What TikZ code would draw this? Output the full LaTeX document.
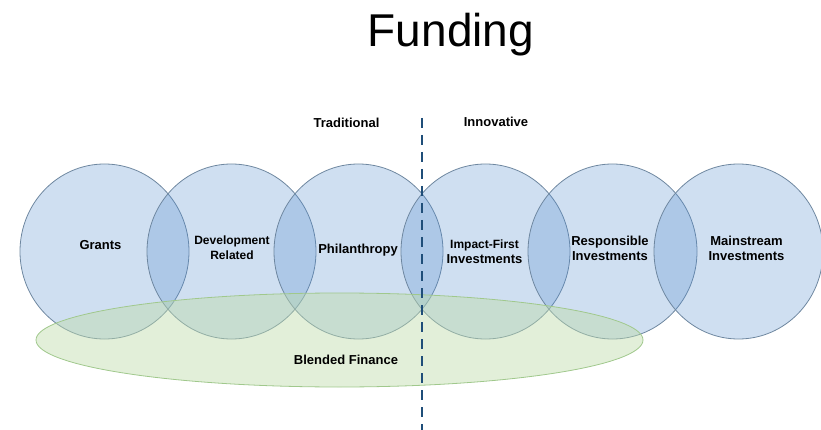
\documentclass[tikz,border=0pt]{standalone}
\usepackage{fontspec}
\setmainfont{Liberation Sans}
\usetikzlibrary{shapes.geometric}
\definecolor{circfill}{RGB}{84,140,205}
\definecolor{circline}{RGB}{110,135,160}
\definecolor{ellfill}{RGB}{190,220,170}
\definecolor{ellline}{RGB}{160,200,140}
\definecolor{dashcol}{RGB}{31,78,121}
\tikzset{
  circ/.style={ellipse, minimum width=169pt, minimum height=175pt, inner sep=0pt,
    fill=circfill, fill opacity=0.28, draw=circline, draw opacity=1, line width=0.8pt},
  blend/.style={ellipse, minimum width=607pt, minimum height=94pt, inner sep=0pt,
    fill=ellfill, fill opacity=0.45, draw=ellline, line width=0.8pt},
  lbl/.style={anchor=base, align=center, inner sep=0pt, font=\bfseries\fontsize{13}{15}\selectfont},
  lblsmall/.style={anchor=base, align=center, inner sep=0pt, font=\bfseries\fontsize{12}{15}\selectfont},
  divider/.style={draw=dashcol, line width=2.6pt, dash pattern=on 10pt off 7pt}
}
\begin{document}
\begin{tikzpicture}[x=1pt,y=-1pt]
\useasboundingbox (0,0) rectangle (821,430);
% circles
\node[circ] (c1) at (104.5,251.5) {};
\node[circ] (c2) at (231.5,251.5) {};
\node[circ] (c3) at (358.5,251.5) {};
\node[circ] (c4) at (485.5,251.5) {};
\node[circ] (c5) at (612.5,251.5) {};
\node[circ] (c6) at (738.5,251.5) {};
% blended finance ellipse
\node[blend] (bf) at (339.5,340) {};
% title
\node[anchor=base, inner sep=0pt, font=\fontsize{46}{50}\selectfont] (title) at (451,47) {Funding};
% headings
\node[lbl] (trad) at (346.5,128) {Traditional};
\node[lbl] (innov) at (496,127) {Innovative};
% labels (multi-line: base = last line's baseline)
\node[lbl] (grants) at (100.5,249) {Grants};
\node[lblsmall] (dev) at (232,259) {Development\\Related};
\node[lbl] (phil) at (358,253) {Philanthropy};
\node[anchor=base, align=center, inner sep=0pt, font=\bfseries\fontsize{13}{15}\selectfont] (impact) at (484.5,263) {{\fontsize{12}{15}\selectfont Impact-First}\\Investments};
\node[lbl] (resp) at (610,261) {Responsible\\Investments};
\node[lbl] (main) at (746.5,261) {Mainstream\\Investments};
\node[lbl] (blendlbl) at (346,364) {Blended Finance};
% divider
\coordinate (dtop) at (422,118);
\coordinate (dbot) at (422,432);
\draw[divider] (dtop) -- (dbot);
\end{tikzpicture}
\end{document}
